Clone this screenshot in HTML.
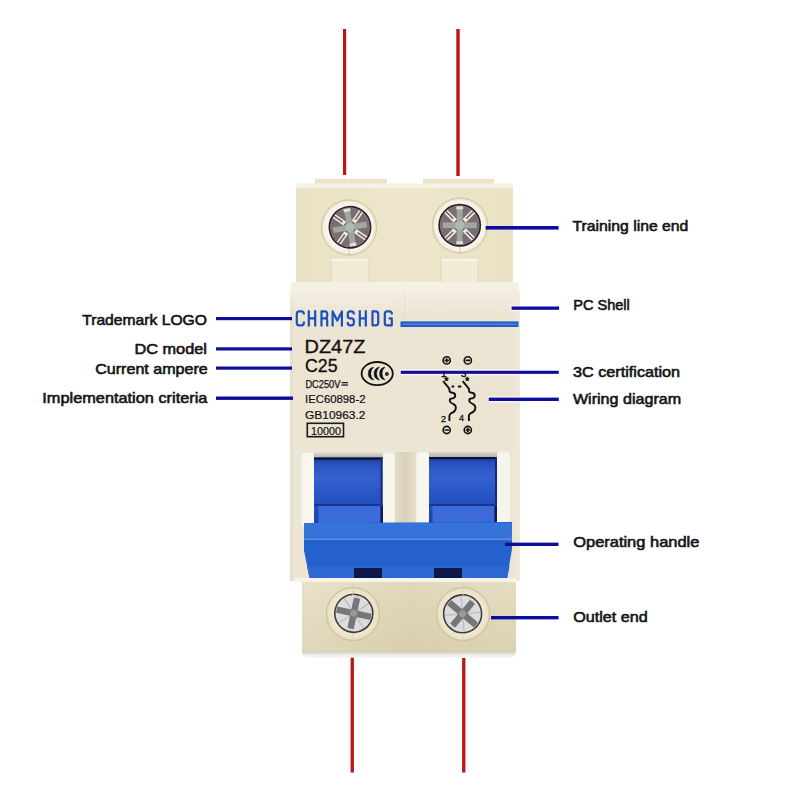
<!DOCTYPE html>
<html><head><meta charset="utf-8">
<style>
html,body{margin:0;padding:0;background:#fff;}
body{width:800px;height:800px;overflow:hidden;}
svg{display:block;font-family:"Liberation Sans",sans-serif;}
</style></head>
<body>
<svg width="800" height="800" viewBox="0 0 800 800">
<defs>
  <linearGradient id="handleG" x1="0" y1="0" x2="0" y2="1">
    <stop offset="0" stop-color="#1c3896"/>
    <stop offset="0.1" stop-color="#2a52bf"/>
    <stop offset="0.3" stop-color="#3461cf"/>
    <stop offset="0.7" stop-color="#2250c0"/>
    <stop offset="1" stop-color="#1b44b0"/>
  </linearGradient>
  <linearGradient id="frameTop" x1="0" y1="0" x2="0" y2="1">
    <stop offset="0" stop-color="#dcd7c8"/>
    <stop offset="1" stop-color="#b9b5aa"/>
  </linearGradient>
  <linearGradient id="divG" x1="0" y1="0" x2="1" y2="0">
    <stop offset="0" stop-color="#e4dcc6"/>
    <stop offset="0.5" stop-color="#d9d0b8"/>
    <stop offset="1" stop-color="#e6dfcb"/>
  </linearGradient>
  <radialGradient id="collarG" cx="0.5" cy="0.5" r="0.5">
    <stop offset="0.74" stop-color="#faf7ee"/>
    <stop offset="0.9" stop-color="#f5f1e4"/>
    <stop offset="0.97" stop-color="#e4dcc2"/>
    <stop offset="1" stop-color="#dcd2b5"/>
  </radialGradient>
  <radialGradient id="collarB" cx="0.5" cy="0.5" r="0.5">
    <stop offset="0.7" stop-color="#eee8d2"/>
    <stop offset="0.9" stop-color="#ebe4cb"/>
    <stop offset="0.97" stop-color="#dcd2b2"/>
    <stop offset="1" stop-color="#d6cba8"/>
  </radialGradient>
  <linearGradient id="bodyTop" x1="0" y1="0" x2="1" y2="0">
    <stop offset="0" stop-color="#e9e2c5"/>
    <stop offset="0.5" stop-color="#ede6ca"/>
    <stop offset="1" stop-color="#eae2c5"/>
  </linearGradient>
  <linearGradient id="bodyBot" x1="0" y1="0" x2="1" y2="0">
    <stop offset="0" stop-color="#e5ddc2"/>
    <stop offset="0.5" stop-color="#ddd3b3"/>
    <stop offset="1" stop-color="#e1d8ba"/>
  </linearGradient>
  <linearGradient id="botShade" x1="0" y1="0" x2="0" y2="1">
    <stop offset="0" stop-color="#fff" stop-opacity="0.12"/>
    <stop offset="1" stop-color="#b8ac88" stop-opacity="0.12"/>
  </linearGradient>
  <linearGradient id="bodyMid" x1="0" y1="0" x2="1" y2="0">
    <stop offset="0" stop-color="#e4ddc9"/>
    <stop offset="0.025" stop-color="#ece5d3"/>
    <stop offset="0.97" stop-color="#ebe4d2"/>
    <stop offset="1" stop-color="#efe9dc"/>
  </linearGradient>
  <linearGradient id="midTop" x1="0" y1="0" x2="0" y2="1">
    <stop offset="0" stop-color="#f3efe3" stop-opacity="1"/>
    <stop offset="1" stop-color="#f3efe3" stop-opacity="0"/>
  </linearGradient>
  
  
</defs>
<rect width="800" height="800" fill="#fff"/>

<!-- red wires -->
<rect x="343" y="29" width="3.2" height="146" fill="#bd1414"/>
<rect x="456.3" y="29" width="3.4" height="147" fill="#bd1414"/>
<rect x="350.6" y="657.5" width="3.3" height="115" fill="#bd1414"/>
<rect x="462.1" y="658" width="3.3" height="114.5" fill="#bd1414"/>

<!-- BREAKER -->
<!-- top ledges -->
<rect x="315" y="178.8" width="72" height="5" fill="#ece4c8"/>
<rect x="423" y="178.8" width="71" height="5" fill="#ece4c8"/>
<rect x="348.5" y="179" width="0.8" height="4.5" fill="#f7f3e6"/>
<rect x="458" y="179" width="0.8" height="4.5" fill="#f7f3e6"/>
<!-- top terminal block -->
<rect x="296" y="184" width="217" height="101" fill="url(#bodyTop)"/>
<rect x="296" y="183.5" width="217" height="4.5" fill="#f5f1e4"/>
<!-- tabs -->
<rect x="331" y="258" width="38" height="26" fill="#f0ead6" stroke="#ddd4b8" stroke-width="0.8"/>
<rect x="441" y="258" width="37" height="26" fill="#f0ead6" stroke="#ddd4b8" stroke-width="0.8"/>
<rect x="331.5" y="258.5" width="37" height="3" fill="#f6f2e6"/>
<rect x="441.5" y="258.5" width="36" height="3" fill="#f6f2e6"/>
<!-- collars -->
<circle cx="349" cy="227.5" r="28" fill="url(#collarG)"/>
<circle cx="460" cy="225.5" r="28" fill="url(#collarG)"/>
<circle cx="349" cy="227.5" r="27.6" fill="none" stroke="#d2c8a8" stroke-width="1"/>
<circle cx="460" cy="225.5" r="27.6" fill="none" stroke="#d2c8a8" stroke-width="1"/>
<line x1="349" y1="248" x2="349" y2="256" stroke="#c9c0a6" stroke-width="0.8"/>
<line x1="460" y1="246" x2="460" y2="254" stroke="#c9c0a6" stroke-width="0.8"/>
<!-- screws top -->
<g transform="translate(350,227.3) rotate(-10)">
    <circle r="20.5" fill="#7a6e74"/>
    <g stroke="#eeece6" stroke-width="4.6">
      <line x1="4.5" y1="-4.5" x2="15" y2="-15"/>
      <line x1="-4.5" y1="-4.5" x2="-15" y2="-15"/>
      <line x1="4.5" y1="4.5" x2="15" y2="15"/>
      <line x1="-4.5" y1="4.5" x2="-15" y2="15"/>
    </g>
    <g stroke="#6e6268" stroke-width="1.6">
      <line x1="6.5" y1="-6.5" x2="14" y2="-14"/>
      <line x1="-6.5" y1="-6.5" x2="-14" y2="-14"/>
      <line x1="6.5" y1="6.5" x2="14" y2="14"/>
      <line x1="-6.5" y1="6.5" x2="-14" y2="14"/>
    </g>
    <rect x="-2.9" y="-17" width="5.8" height="34" fill="#a0a79f"/>
    <rect x="-17" y="-2.9" width="34" height="5.8" fill="#a0a79f"/>
    <rect x="-3.4" y="-19" width="6.8" height="3" fill="#e2e0da"/>
    <rect x="-3.4" y="16" width="6.8" height="3" fill="#e2e0da"/>
    <circle r="4.6" fill="#b3b9b1"/>
    <circle r="20" fill="none" stroke="#b8b6b4" stroke-width="0.8"/>
    <circle r="20.6" fill="none" stroke="#2a2226" stroke-width="1.7"/>
  </g>
<g transform="translate(459.7,225.3)">
    <circle r="20.5" fill="#7a6e74"/>
    <g stroke="#eeece6" stroke-width="4.6">
      <line x1="4.5" y1="-4.5" x2="15" y2="-15"/>
      <line x1="-4.5" y1="-4.5" x2="-15" y2="-15"/>
      <line x1="4.5" y1="4.5" x2="15" y2="15"/>
      <line x1="-4.5" y1="4.5" x2="-15" y2="15"/>
    </g>
    <g stroke="#6e6268" stroke-width="1.6">
      <line x1="6.5" y1="-6.5" x2="14" y2="-14"/>
      <line x1="-6.5" y1="-6.5" x2="-14" y2="-14"/>
      <line x1="6.5" y1="6.5" x2="14" y2="14"/>
      <line x1="-6.5" y1="6.5" x2="-14" y2="14"/>
    </g>
    <rect x="-2.9" y="-17" width="5.8" height="34" fill="#a0a79f"/>
    <rect x="-17" y="-2.9" width="34" height="5.8" fill="#a0a79f"/>
    <rect x="-3.4" y="-19" width="6.8" height="3" fill="#e2e0da"/>
    <rect x="-3.4" y="16" width="6.8" height="3" fill="#e2e0da"/>
    <circle r="4.6" fill="#b3b9b1"/>
    <circle r="20" fill="none" stroke="#b8b6b4" stroke-width="0.8"/>
    <circle r="20.6" fill="none" stroke="#2a2226" stroke-width="1.7"/>
  </g>

<!-- step strip -->
<rect x="291" y="282" width="228" height="10" fill="#f4f0e4"/>
<!-- middle body -->
<rect x="290" y="291" width="230" height="290" fill="url(#bodyMid)"/>
<rect x="290" y="291" width="230" height="24" fill="url(#midTop)"/>

<!-- logo -->
<g fill="none" stroke="#1c4fc0" stroke-width="2.2" stroke-linejoin="round">
<path d="M303.8,314.6 V313.8 Q303.8,311.4 301.4,311.4 H299.2 Q296.8,311.4 296.8,313.8 V322.9 Q296.8,325.3 299.2,325.3 H301.4 Q303.8,325.3 303.8,322.9 V321.6"/>
<path d="M308.8,310.2 V326.5 M315.2,310.2 V326.5 M308.8,318.4 H315.2"/>
<path d="M321.5,326.5 V311.4 H324.8 Q327.2,311.4 327.2,313.8 V316 Q327.2,318.4 324.8,318.4 H321.5 M325.5,318.4 Q327.2,318.4 327.2,320.5 V326.5"/>
<path d="M332.6,326.5 V311.4 L337.25,320.5 L341.9,311.4 V326.5"/>
<path d="M353.8,314.6 V313.8 Q353.8,311.4 351.4,311.4 H350.2 Q347.8,311.4 347.8,313.8 V316 Q347.8,318.4 350.2,318.4 H351.4 Q353.8,318.4 353.8,320.8 V322.9 Q353.8,325.3 351.4,325.3 H350.2 Q347.8,325.3 347.8,322.9 V322"/>
<path d="M359.8,310.2 V326.5 M365.8,310.2 V326.5 M359.8,318.4 H365.8"/>
<path d="M372.5,311.4 H375.6 Q378.2,311.4 378.2,314 V322.7 Q378.2,325.3 375.6,325.3 H372.5 Z"/>
<path d="M391.8,314.6 V313.8 Q391.8,311.4 389.4,311.4 H387.2 Q384.8,311.4 384.8,313.8 V322.9 Q384.8,325.3 387.2,325.3 H391.8 V318.4 H388.6"/>
</g>
<rect x="400.5" y="321.4" width="118" height="5.6" fill="#1f5cc8"/>
<rect x="402" y="323.3" width="115" height="1.6" fill="#8fb4ea" opacity="0.55" stroke="#2a6ad0" stroke-dasharray="2 1.5" stroke-width="0.6"/>

<!-- model text -->
<g fill="#111" stroke="#111">
<text x="304.6" y="352.5" font-size="19.2" stroke-width="0.35" textLength="60.8" lengthAdjust="spacingAndGlyphs">DZ47Z</text>
<text x="305" y="371.9" font-size="18.6" stroke-width="0.35" textLength="32.5" lengthAdjust="spacingAndGlyphs">C25</text>
<text x="305.4" y="387.5" font-size="10.6" stroke-width="0.25" textLength="35" lengthAdjust="spacingAndGlyphs">DC250V</text>
<text x="305" y="403" font-size="11.2" stroke-width="0.2" textLength="60.5" lengthAdjust="spacingAndGlyphs">IEC60898-2</text>
<text x="305" y="418.5" font-size="11.2" stroke-width="0.2" textLength="60.5" lengthAdjust="spacingAndGlyphs">GB10963.2</text>
<text x="311" y="434.6" font-size="11.2" stroke-width="0.2" textLength="30" lengthAdjust="spacingAndGlyphs">10000</text>
</g>
<rect x="341.5" y="382" width="6.5" height="1.3" fill="#222"/>
<rect x="341.5" y="384.4" width="6.5" height="1.3" fill="#222"/>
<rect x="307.3" y="423.3" width="36.2" height="13.4" fill="none" stroke="#1a1a1a" stroke-width="1.6"/>

<!-- 3C mark -->
<ellipse cx="377.2" cy="373.6" rx="15.6" ry="11.6" fill="none" stroke="#111" stroke-width="1.8"/>
<path d="M373.70,367.1 A6.6,6.6 0 0 0 373.70,380.1 A8.6,8.6 0 0 1 373.70,367.1 Z M379.50,367.1 A6.6,6.6 0 0 0 379.50,380.1 A8.6,8.6 0 0 1 379.50,367.1 Z M385.00,367.1 A6.6,6.6 0 0 0 385.00,380.1 A8.6,8.6 0 0 1 385.00,367.1 Z" fill="#111" stroke="#111" stroke-width="0.5"/>
<circle cx="386.9" cy="373.9" r="1.9" fill="#111"/>
<circle cx="386.9" cy="373.9" r="0.7" fill="#6a6a80"/>
<!-- wiring diagram -->
<g fill="none" stroke="#111" stroke-width="1.9">
<circle cx="446.7" cy="360.4" r="3.6" stroke-width="1.6"/>
<circle cx="467.8" cy="360.4" r="3.6" stroke-width="1.6"/>
<circle cx="446.7" cy="430" r="3.6" stroke-width="1.6"/>
<circle cx="467.8" cy="430" r="3.6" stroke-width="1.6"/>
<path d="M444.5,360.4 h4.4 M446.7,358.2 v4.4 M465.6,360.4 h4.4 M444.5,430 h4.4 M465.6,430 h4.4 M467.8,427.8 v4.4" stroke-width="1.7"/>
<path id="pole" d="M443.2,381.2 L449.3,388.6 L449.6,391.4 Q450,392.6 452.5,392.8 Q455.4,393.2 455.2,396 Q455,398.4 451,398.6 Q449.6,398.8 449.8,401 Q450.4,403 453.5,404.2 Q456.5,405.6 455.6,409.4 Q454.6,412 450.8,413.4 Q449.4,414.4 449.4,416 L449.4,421"/>
<path d="M443.2,381.2 L449.3,388.6 L449.6,391.4 Q450,392.6 452.5,392.8 Q455.4,393.2 455.2,396 Q455,398.4 451,398.6 Q449.6,398.8 449.8,401 Q450.4,403 453.5,404.2 Q456.5,405.6 455.6,409.4 Q454.6,412 450.8,413.4 Q449.4,414.4 449.4,416 L449.4,421" transform="translate(19.5,0)"/>
<path d="M451.6,386.4 h2.6 M457.9,386.4 h3.4" stroke-width="2"/>
</g>
<g fill="#111" font-size="9" stroke="#111" stroke-width="0.3">
<text x="441" y="422">2</text>
<text x="459" y="421">4</text>
<text x="444.6" y="384.5" font-size="10" stroke-width="0.6">*</text>
<text x="465.2" y="384.5" font-size="10" stroke-width="0.6">*</text>
</g>

<!-- windows -->
<rect x="295" y="447" width="220" height="80" fill="#ece6d6"/>
<rect x="301.8" y="452.8" width="12.7" height="74" rx="3.5" fill="#f9f6ee"/>
<rect x="382.7" y="452.8" width="12" height="74" rx="3.5" fill="#f7f4eb"/>
<rect x="395" y="452" width="21" height="75" fill="url(#divG)"/>
<rect x="416.5" y="452.3" width="12.7" height="74" rx="3.5" fill="#f9f6ee"/>
<rect x="497" y="452.3" width="13" height="74" rx="3.5" fill="#f7f4eb"/>
<rect x="314" y="452.8" width="69" height="5" fill="url(#frameTop)"/>
<rect x="429" y="452" width="68" height="5" fill="url(#frameTop)"/>
<rect x="314" y="457.5" width="68.5" height="66" fill="url(#handleG)"/>
<rect x="429" y="457" width="68" height="66" fill="url(#handleG)"/>
<rect x="314" y="457.5" width="68.5" height="2.2" fill="#0b1440"/>
<rect x="429" y="457" width="68" height="2.2" fill="#0b1440"/>
<rect x="380.5" y="457.5" width="2" height="66" fill="#142a80"/>
<rect x="495" y="457" width="2" height="66" fill="#142a80"/>
<rect x="314" y="504" width="68.5" height="2" fill="#1a3590"/>
<rect x="429" y="504" width="68" height="2" fill="#1a3590"/>
<rect x="318.5" y="506" width="62" height="17" fill="#3d6bd9"/>
<rect x="432.5" y="506" width="62" height="17" fill="#3d6bd9"/>
<rect x="380.5" y="506" width="2.5" height="17" fill="#0d1c5a"/>
<rect x="494.5" y="506" width="2.5" height="17" fill="#0d1c5a"/>

<!-- handle bar -->
<path d="M304,523 L512,522 L512,549 L507,578.5 L309.7,578.5 L304,550.6 Z" fill="#2461cc"/>
<rect x="304" y="523" width="208" height="16.5" fill="#3673d9"/>
<rect x="304" y="538.5" width="208" height="1.5" fill="#5a8ee6"/>
<path d="M307,566.5 L509.6,566.5 L507,578.5 L309.7,578.5 Z" fill="#2c67d2"/>
<rect x="354" y="568" width="28" height="10" fill="#0c1848"/>
<rect x="434" y="568" width="28" height="10" fill="#0c1848"/>

<!-- bottom light strip -->
<rect x="294" y="578" width="222" height="4.5" fill="#f6f3ea"/>
<!-- bottom block -->
<rect x="302" y="582" width="214" height="70" fill="url(#bodyBot)"/>
<rect x="302" y="582" width="214" height="70" fill="url(#botShade)"/>
<rect x="302" y="652" width="214" height="1.5" fill="#d6d2c6"/>
<rect x="303" y="653.5" width="212" height="2" fill="#e4e2dc"/>
<rect x="305" y="655.5" width="208" height="2" fill="#f2f1ee"/>
<circle cx="353" cy="614" r="27" fill="url(#collarB)"/>
<circle cx="463" cy="614" r="27" fill="url(#collarB)"/>
<circle cx="353" cy="614" r="26.6" fill="none" stroke="#cdc29e" stroke-width="1"/>
<circle cx="463" cy="614" r="26.6" fill="none" stroke="#cdc29e" stroke-width="1"/>
<g transform="translate(353.8,613.3) rotate(12)">
    <circle r="19" fill="#dcdbdd"/>
    <g stroke="#b8b6b6" stroke-width="1">
      <line x1="0" y1="-18" x2="0" y2="18"/>
      <line x1="-18" y1="0" x2="18" y2="0"/>
      <line x1="-13" y1="-13" x2="13" y2="13"/>
      <line x1="13" y1="-13" x2="-13" y2="13"/>
    </g>
    <rect x="-3.2" y="-15.5" width="6.4" height="31" fill="#767578"/>
    <rect x="-17.5" y="-3.2" width="35" height="6.4" fill="#767578"/>
    <circle r="3.5" fill="#9a999a"/>
    <circle r="19" fill="none" stroke="#3e3b38" stroke-width="1.6"/>
  </g>
<g transform="translate(462.6,613.8) rotate(40)">
    <circle r="19" fill="#dcdbdd"/>
    <g stroke="#b8b6b6" stroke-width="1">
      <line x1="0" y1="-18" x2="0" y2="18"/>
      <line x1="-18" y1="0" x2="18" y2="0"/>
      <line x1="-13" y1="-13" x2="13" y2="13"/>
      <line x1="13" y1="-13" x2="-13" y2="13"/>
    </g>
    <rect x="-3.2" y="-15.5" width="6.4" height="31" fill="#767578"/>
    <rect x="-17.5" y="-3.2" width="35" height="6.4" fill="#767578"/>
    <circle r="3.5" fill="#9a999a"/>
    <circle r="19" fill="none" stroke="#3e3b38" stroke-width="1.6"/>
  </g>

<!-- seams -->
<g stroke="#d6ceb6" stroke-width="0.8" fill="none">
<line x1="353" y1="583" x2="353" y2="595"/>
<line x1="353" y1="633" x2="353" y2="651"/>
<line x1="463" y1="583" x2="463" y2="595"/>
<line x1="463" y1="633" x2="463" y2="651"/>
<line x1="410" y1="583" x2="410" y2="651" stroke-opacity="0.5"/>
<line x1="405" y1="292" x2="405" y2="318" stroke-opacity="0.5"/>
</g>
<!-- halos -->
<g fill="#f7f4ec">
<rect x="399.5" y="369.2" width="120" height="6.2"/>
<rect x="487.5" y="396" width="32" height="6.6"/>
<rect x="510.5" y="305" width="9" height="6.3"/>
</g>
<g fill="#111" font-size="9.6" stroke="#111" stroke-width="0.4"><text x="441" y="376.8">1</text><text x="461" y="376.8">3</text></g>
<!-- blue annotation lines -->
<g fill="#0d0d9e">
<rect x="216" y="317" width="76" height="3.2"/>
<rect x="216" y="347.3" width="76" height="3.2"/>
<rect x="216" y="366.5" width="76" height="3.2"/>
<rect x="216" y="396.5" width="77" height="3.4"/>
<rect x="485.6" y="226" width="73" height="3.6"/>
<rect x="511.6" y="306.5" width="47.5" height="3.3"/>
<rect x="400.75" y="370.75" width="158" height="3.1"/>
<rect x="488.75" y="397.6" width="70" height="3.4"/>
<rect x="505" y="542.6" width="53.5" height="3.4"/>
<rect x="491" y="616" width="67.5" height="3.4"/>
</g>

<!-- labels -->
<g fill="#141414" stroke="#141414" stroke-width="0.6" font-size="15">
<text x="82.20" y="324.7" textLength="124.80" lengthAdjust="spacingAndGlyphs">Trademark LOGO</text>
<text x="134.40" y="354.2" textLength="72.50" lengthAdjust="spacingAndGlyphs">DC model</text>
<text x="95.20" y="373.5" textLength="112.60" lengthAdjust="spacingAndGlyphs">Current ampere</text>
<text x="42.30" y="403.2" textLength="165.10" lengthAdjust="spacingAndGlyphs">Implementation criteria</text>
<text x="572.60" y="230.9" textLength="115.70" lengthAdjust="spacingAndGlyphs">Training line end</text>
<text x="573.20" y="310.3" textLength="56.60" lengthAdjust="spacingAndGlyphs">PC Shell</text>
<text x="572.95" y="377.2" textLength="107.20" lengthAdjust="spacingAndGlyphs">3C certification</text>
<text x="572.95" y="403.7" textLength="108.15" lengthAdjust="spacingAndGlyphs">Wiring diagram</text>
<text x="573.20" y="546.9" textLength="126.20" lengthAdjust="spacingAndGlyphs">Operating handle</text>
<text x="573.20" y="621.9" textLength="74.60" lengthAdjust="spacingAndGlyphs">Outlet end</text>
</g>
</svg>
</body></html>
